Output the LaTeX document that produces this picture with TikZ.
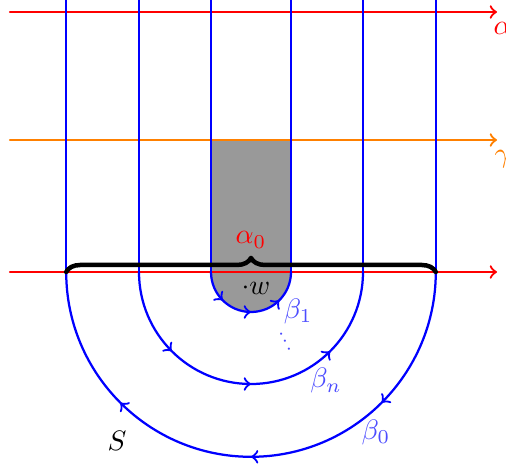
\documentclass[tikz,border=0pt]{standalone}
\usetikzlibrary{decorations.pathreplacing,decorations.markings}
\begin{document}
\begin{tikzpicture}[x=.5cm,y=.5cm,>=to,line cap=round,line join=round,
  flow/.style={postaction={decorate},decoration={markings,
    mark=at position .25 with {\arrow{>}},
    mark=at position .5 with {\arrow{>}},
    mark=at position .75 with {\arrow{>}}}}]
  \useasboundingbox (-6.275,-4.9) rectangle (6.375,6.8);
  \fill[black!40] (-1,3.3)--(-1,0) arc[start angle=180,end angle=360,radius=1]--(1,3.3)--cycle;
  \draw[->,thick,red] (-6.025,6.5)--(6.15,6.5) node[below,xshift=2pt] (alpha) {$\alpha$};
  \draw[->,thick,orange] (-6.025,3.3)--(6.15,3.3) node[below,xshift=2pt] (gamma) {$\gamma$};
  \draw[->,thick,red] (-6.025,0)--(6.15,0);
  \foreach \r in {1,2.8,4.62} {
    \draw[thick,blue] (-\r,6.8)--(-\r,0);
    \draw[thick,blue] (\r,6.8)--(\r,0);
  }
  \draw[thick,blue,flow] (-1,0) arc[start angle=180,end angle=360,radius=1];
  \draw[thick,blue,flow] (-2.8,0) arc[start angle=180,end angle=360,radius=2.8];
  \draw[thick,blue,flow] (4.62,0) arc[start angle=0,end angle=-180,radius=4.62];
  \draw[ultra thick,decorate,decoration={brace,amplitude=5pt}] (-4.62,0)--(4.62,0);
  \node[red] (a0) at (0,.8) {$\alpha_0$};
  \node (w) at (.125,-.4) {$\cdot w$};
  \node[blue!70] (b1) at (1.18,-.975) {$\beta_1$};
  \node[blue!70,rotate=27,scale=.75] (dots) at (.78,-1.6) {$\vdots$};
  \node[blue!70] (bn) at (1.875,-2.72) {$\beta_n$};
  \node[blue!70] (b0) at (3.125,-4) {$\beta_0$};
  \node (S) at (-3.35,-4.22) {$S$};
\end{tikzpicture}
\end{document}
